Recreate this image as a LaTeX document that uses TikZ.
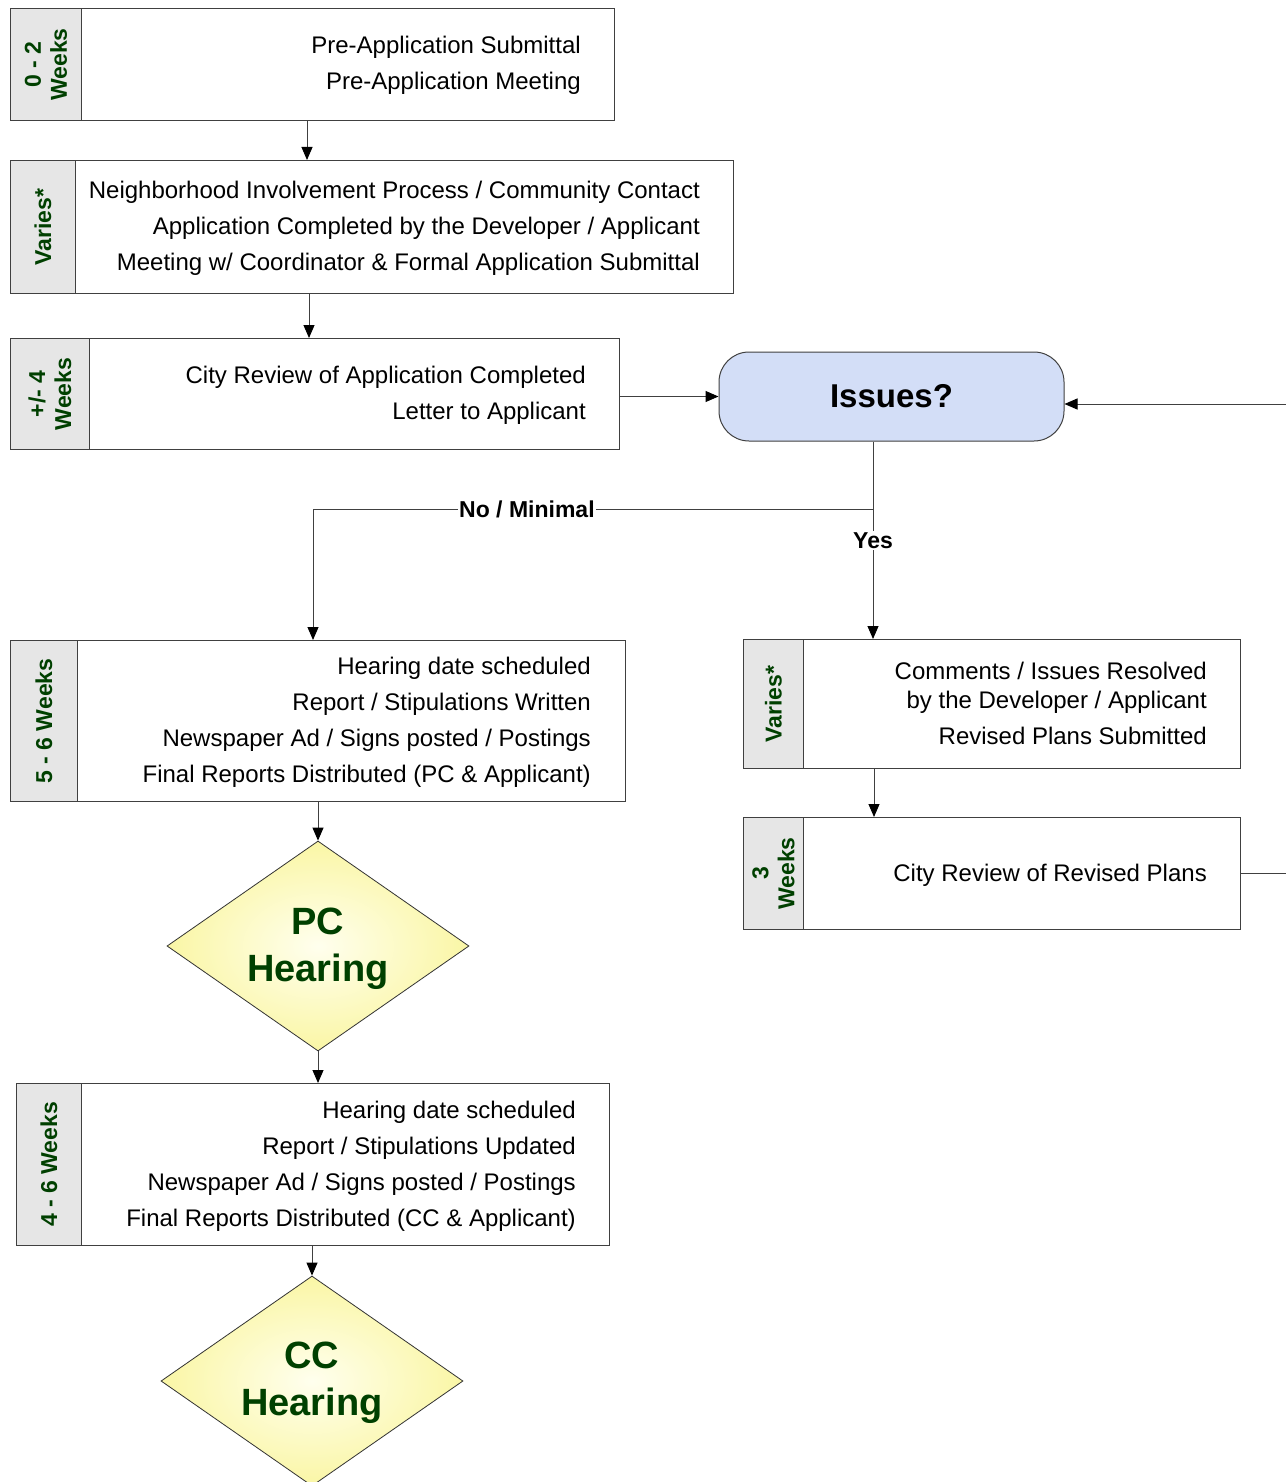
\documentclass[tikz,border=0pt]{standalone}
\usepackage{fontspec}
\setmainfont{Liberation Sans}
\usetikzlibrary{arrows.meta,shapes.geometric,calc}
\definecolor{edge}{HTML}{404040}
\definecolor{lab}{HTML}{E6E6E6}
\definecolor{dgreen}{HTML}{004000}
\definecolor{issue}{HTML}{D3DEF7}
\definecolor{dyin}{RGB}{255,255,238}
\definecolor{dyout}{RGB}{250,246,165}
\tikzset{
 box/.style={draw=edge, line width=1pt, anchor=north west, inner sep=0pt, rectangle},
 labcol/.style={draw=edge, line width=1pt, fill=lab, anchor=north west, inner sep=0pt, rectangle},
 labtxt/.style={rotate=90, font=\fontsize{23}{26}\selectfont\bfseries, text=dgreen, align=center, inner sep=0pt},
 body/.style={anchor=east, align=right, font=\fontsize{24}{36}\selectfont, inner sep=0pt},
 arr/.style={draw=edge, line width=1pt, -{Triangle[length=13pt,width=11pt,color=black]}},
 plain/.style={draw=edge, line width=1pt},
 edgelab/.style={font=\fontsize{23}{26}\selectfont\bfseries, fill=white, inner sep=1.5pt},
 hearing/.style={diamond, draw=black!80, line width=0.8pt, minimum width=302pt, minimum height=210pt, inner sep=0pt, shade, inner color=dyin, outer color=dyout},
 hearingtxt/.style={font=\fontsize{38}{47}\selectfont\bfseries, text=dgreen, align=center, inner sep=0pt},
 decision/.style={rectangle, rounded corners=30pt, draw=edge, line width=1pt, fill=issue, minimum width=345pt, minimum height=89pt, font=\fontsize{33}{40}\selectfont\bfseries}
}
\begin{document}
\begin{tikzpicture}[x=1pt,y=-1pt]
\useasboundingbox (0,0) rectangle (1285,1482);
\fill[white] (0,0) rectangle (1285,1482);

% Box 1
\node[box, minimum width=604pt, minimum height=112pt] (b1) at (10,8) {};
\node[labcol, minimum width=71pt, minimum height=112pt] (l1) at (10,8) {};
\node[labtxt] (l1t) at (l1.center) {0 - 2\\Weeks};
\node[body] (t1) at (581,65) {Pre-Application Submittal\\Pre-Application Meeting};

% Box 2
\node[box, minimum width=723pt, minimum height=133pt] (b2) at (10,160) {};
\node[labcol, minimum width=65pt, minimum height=133pt] (l2) at (10,160) {};
\node[labtxt] (l2t) at (l2.center) {Varies*};
\node[body] (t2) at (700,228) {Neighborhood Involvement Process / Community Contact\\Application Completed by the Developer / Applicant\\Meeting w/ Coordinator \& Formal Application Submittal};

% Box 3
\node[box, minimum width=609pt, minimum height=111pt] (b3) at (10,338) {};
\node[labcol, minimum width=79pt, minimum height=111pt] (l3) at (10,338) {};
\node[labtxt] (l3t) at (l3.center) {+/- 4\\Weeks};
\node[body] (t3) at (586,395) {City Review of Application Completed\\Letter to Applicant};

% Issues
\node[decision] (iss) at (891.5,396.5) {Issues?};

% Box 4
\node[box, minimum width=615pt, minimum height=161pt] (b4) at (10,640) {};
\node[labcol, minimum width=67pt, minimum height=161pt] (l4) at (10,640) {};
\node[labtxt] (l4t) at (l4.center) {5 - 6 Weeks};
\node[body] (t4) at (591,722) {Hearing date scheduled\\Report / Stipulations Written\\Newspaper Ad / Signs posted / Postings\\Final Reports Distributed (PC \& Applicant)};

% Box 5
\node[box, minimum width=497pt, minimum height=129pt] (b5) at (743,639) {};
\node[labcol, minimum width=60pt, minimum height=129pt] (l5) at (743,639) {};
\node[labtxt] (l5t) at (l5.center) {Varies*};
\node[body, font=\fontsize{24}{29}\selectfont] (t5) at (1207,703) {Comments / Issues Resolved\\by the Developer / Applicant\\[7pt]Revised Plans Submitted};

% Box 6
\node[box, minimum width=497pt, minimum height=112pt] (b6) at (743,817) {};
\node[labcol, minimum width=60pt, minimum height=112pt] (l6) at (743,817) {};
\node[labtxt] (l6t) at (l6.center) {3\\Weeks};
\node[body] (t6) at (1207,875) {City Review of Revised Plans};

% PC hearing
\node[hearing] (pc) at (318,946) {};
\node[hearingtxt] (pct) at (318,949) {PC\\Hearing};

% Box 7
\node[box, minimum width=593pt, minimum height=162pt] (b7) at (16,1083) {};
\node[labcol, minimum width=65pt, minimum height=162pt] (l7) at (16,1083) {};
\node[labtxt] (l7t) at (l7.center) {4 - 6 Weeks};
\node[body] (t7) at (576,1166) {Hearing date scheduled\\Report / Stipulations Updated\\Newspaper Ad / Signs posted / Postings\\Final Reports Distributed (CC \& Applicant)};

% CC hearing
\node[hearing] (cc) at (312,1381) {};
\node[hearingtxt] (cct) at (312,1383) {CC\\Hearing};

% helper coordinates
\coordinate (ax1) at (307,0);
\coordinate (ax2) at (309,0);
\coordinate (split) at (873,509);
\coordinate (nocorner) at (313,509);
\coordinate (ax5) at (874,0);
\coordinate (ax6) at (318,0);
\coordinate (loopx) at (1296,404);

% connectors
\draw[arr] (b1.south -| ax1) -- (b2.north -| ax1);
\draw[arr] (b2.south -| ax2) -- (b3.north -| ax2);
\draw[arr] (b3.east |- iss.west) -- (iss.west);
\draw[plain] (iss.south -| split) -- (split);
\draw[arr] (split) -- node[edgelab, pos=0.24] (yes) {Yes} (b5.north -| split);
\draw[arr] (split) -- node[edgelab, pos=0.618] (no) {No / Minimal} (nocorner) -- (b4.north -| nocorner);
\draw[arr] (b5.south -| ax5) -- (b6.north -| ax5);
\draw[arr] (b6.east) -| (loopx) -- (iss.east |- loopx);
\draw[arr] (b4.south -| ax6) -- (pc.north);
\draw[arr] (pc.south) -- (b7.north -| ax6);
\draw[arr] (cc.north |- b7.south) -- (cc.north);
\end{tikzpicture}
\end{document}
